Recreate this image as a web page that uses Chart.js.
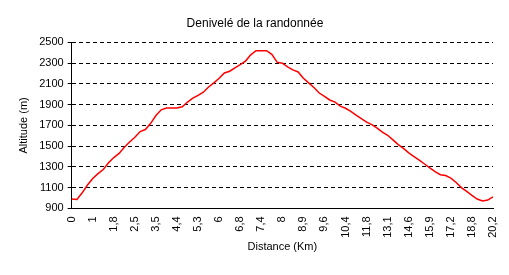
<!DOCTYPE html>
<html>
<head>
<meta charset="utf-8">
<script src="https://cdn.jsdelivr.net/npm/chart.js@4"></script>
<style>
  html, body { margin: 0; padding: 0; background: #fff; }
  #wrap { width: 509px; height: 275px; }
</style>
</head>
<body>
<div id="wrap"><canvas id="profil"></canvas></div>
<script>
// distance labels shown on the x axis (one every 4 samples)
const distanceTicks = ['0', '1', '1,8', '2,5', '3,5', '4,4', '5,3', '6', '6,8', '7,4', '8',
    '8,9', '9,6', '10,4', '11,8', '13,1', '14,6', '15,9', '17,2', '18,8', '20,2'];
const samplesPerTick = 4;

// altitude (m) read along the profile
const altitudes = [
    990, 985, 1050, 1125, 1188, 1235, 1275, 1340, 1390, 1430,
    1490, 1540, 1585, 1641, 1660, 1720, 1795, 1850, 1868, 1868,
    1868, 1880, 1925, 1962, 1990, 2020, 2070, 2110, 2155, 2205,
    2222, 2255, 2285, 2320, 2380, 2420, 2420, 2420, 2385, 2310,
    2300, 2265, 2235, 2215, 2155, 2110, 2065, 2012, 1980, 1945,
    1925, 1885, 1865, 1835, 1800, 1765, 1732, 1707, 1673, 1635,
    1605, 1560, 1515, 1478, 1435, 1400, 1366, 1328, 1290, 1255,
    1225, 1217, 1192, 1150, 1100, 1063, 1025, 990, 972, 980,
    1012
];

const labels = altitudes.map((a, i) => i % samplesPerTick === 0 ? distanceTicks[i / samplesPerTick] : '');

const font = { family: 'Liberation Sans', size: 11 };

new Chart(document.getElementById('profil'), {
    type: 'line',
    data: {
        labels: labels,
        datasets: [{
            data: altitudes,
            borderColor: '#FF0000',
            borderWidth: 1.5,
            pointRadius: 0,
            tension: 0,
            fill: false
        }]
    },
    options: {
        responsive: true,
        maintainAspectRatio: false,
        animation: false,
        layout: { padding: { left: 17, right: 16, bottom: 21 } },
        plugins: {
            legend: { display: false },
            tooltip: { enabled: false },
            title: {
                display: true,
                text: 'Denivelé de la randonnée',
                color: '#000',
                font: { family: 'Liberation Sans', size: 12, weight: 'normal' },
                padding: { top: 16, bottom: 12 }
            }
        },
        scales: {
            x: {
                afterFit: (scale) => { scale.paddingRight = 0; },
                grid: { display: false, drawTicks: false },
                border: { display: true, color: '#000', width: 1 },
                ticks: {
                    autoSkip: false,
                    minRotation: 90,
                    maxRotation: 90,
                    padding: 8,
                    color: '#000',
                    font: font
                },
                title: {
                    display: true,
                    text: 'Distance (Km)',
                    color: '#000',
                    font: font,
                    padding: { top: -5, bottom: 0 }
                }
            },
            y: {
                min: 900,
                max: 2500,
                ticks: {
                    stepSize: 200,
                    color: '#000',
                    font: font,
                    padding: 4,
                    callback: (value) => String(value)
                },
                grid: {
                    color: '#000',
                    tickLength: 4,
                    tickColor: '#000',
                    tickBorderDash: []
                },
                border: { display: true, color: '#000', width: 1, dash: [4, 3] },
                title: {
                    display: true,
                    text: 'Altitude (m)',
                    color: '#000',
                    font: font,
                    padding: { top: 0, bottom: 5 }
                }
            }
        }
    }
});
</script>
</body>
</html>
